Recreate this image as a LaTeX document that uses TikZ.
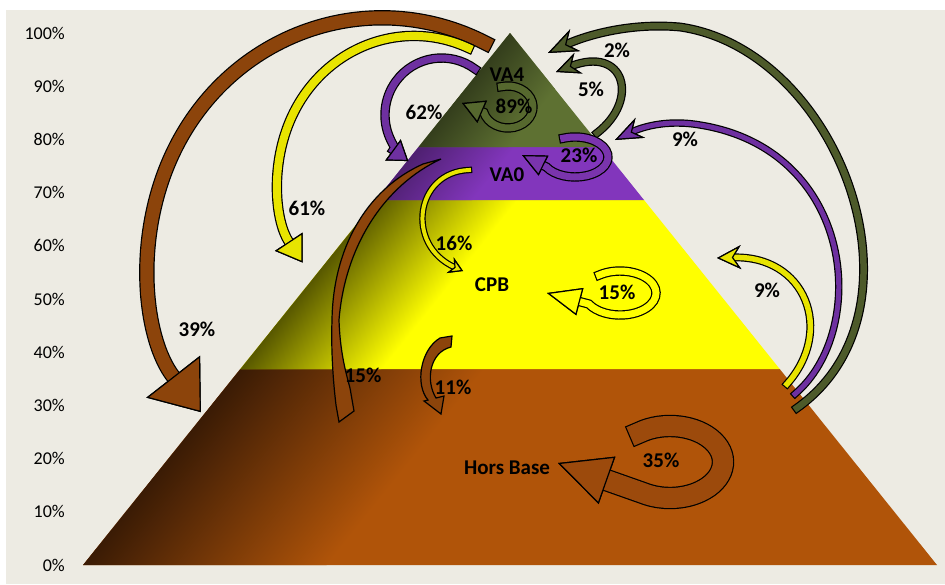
\documentclass[tikz,border=0pt]{standalone}
\usepackage{fontspec}
\setmainfont{Carlito}
\usetikzlibrary{arrows.meta}
\definecolor{bgbeige}{RGB}{237,235,227}
\definecolor{greenL}{RGB}{94,113,50}
\definecolor{greenD}{RGB}{52,62,28}
\definecolor{purpleL}{RGB}{130,54,188}
\definecolor{purpleD}{RGB}{78,32,112}
\definecolor{yellowL}{RGB}{255,255,0}
\definecolor{yellowD}{RGB}{88,88,0}
\definecolor{brownL}{RGB}{176,84,9}
\definecolor{brownD}{RGB}{58,27,5}
\definecolor{arrbrown}{RGB}{140,68,11}
\definecolor{arryellow}{RGB}{232,228,0}
\definecolor{arrpurple}{RGB}{110,48,160}
\definecolor{arrgreen}{RGB}{77,90,42}
\definecolor{loopgreen}{RGB}{86,104,46}
\definecolor{looppurple}{RGB}{122,52,173}
\definecolor{loopbrown}{RGB}{156,74,12}

% band arrow: fill, band width, tip, tip length, tip width, path
\newcommand{\flowarrow}[6]{%
  \draw[line width=#2+2.4pt, black, line cap=rect, -{#3[length=#4, width=#5, line width=1.2pt]}] #6;
  \draw[line width=#2, #1, line cap=rect, -{#3[length=#4, width=#5, fill=#1, color=black, line width=1.2pt]}] #6;
}
% pyramid layer: outline, dark, light, depth of the shadow along the left edge
\newcommand{\pyrlayer}[4]{%
  \fill[#3] #1;
  \begin{scope}
    \clip #1;
    \begin{scope}[transform canvas={shift={(83,565)}, rotate=51.25}]
      \shade[top color=#2, bottom color=#3] (-20,0) rectangle (760,#4);
    \end{scope}
  \end{scope}
}

\begin{document}
\begin{tikzpicture}[x=1pt, y=-1pt,
  lbl/.style={font=\fontsize{21}{24}\selectfont\bfseries, inner sep=0pt},
  axl/.style={font=\fontsize{18}{21}\selectfont, anchor=east, inner sep=0pt}]
  \useasboundingbox (0,0) rectangle (945,584);
  \fill[white] (0,0) rectangle (945,584);
  \fill[bgbeige] (6,10) rectangle (945,584);

  % axis
  \foreach \p in {0,10,...,100} { \node[axl] (ax\p) at (65,{565-5.32*\p}) {\p\%}; }

  % pyramid layers
  \pyrlayer{(240.3,369) -- (779.7,369) -- (937,565) -- (83,565) -- cycle}{brownD}{brownL}{190}
  \pyrlayer{(376,200) -- (644,200) -- (779.7,369) -- (240.3,369) -- cycle}{yellowD}{yellowL}{110}
  \pyrlayer{(418.5,147) -- (601.5,147) -- (644,200) -- (376,200) -- cycle}{purpleD}{purpleL}{75}
  \pyrlayer{(510,33) -- (601.5,147) -- (418.5,147) -- cycle}{greenD}{greenL}{70}

  % flows to the left
  \flowarrow{arrbrown}{13pt}{Triangle}{45pt}{68pt}{(485.2,42.9) arc[start angle=-63.7, end angle=-219, x radius=233, y radius=242]}
  \flowarrow{arryellow}{8pt}{Triangle}{25pt}{33pt}{(468.4,48) arc[start angle=-66.4, end angle=-215, x radius=136, y radius=144]}
  \flowarrow{arrpurple}{7pt}{Triangle}{19pt}{26pt}{(475,69) arc[start angle=-53.8, end angle=-234, x radius=56.6, y radius=57]}

  % flows to the right
  \flowarrow{arrgreen}{6.5pt}{Stealth}{30pt}{24pt}{(797,408) .. controls (935,310) and (840,50) .. (680,27) .. controls (625,22) and (580,38) .. (548,53)}
  \flowarrow{arrpurple}{5pt}{Stealth}{28pt}{22pt}{(795,394) .. controls (870,330) and (855,150) .. (700,125) .. controls (665,119) and (640,128) .. (615,140)}
  \flowarrow{arryellow}{5.5pt}{Stealth}{24pt}{24pt}{(787,384) .. controls (835,330) and (805,255) .. (717,258)}
  \flowarrow{arrgreen}{6pt}{Stealth}{24pt}{22pt}{(597,133) .. controls (640,100) and (625,45) .. (556,72)}

  % flows down the pyramid
  \flowarrow{arryellow}{4pt}{Stealth}{14pt}{17pt}{(469,170) .. controls (415,172) and (405,245) .. (463,271)}
  \draw[fill=arrbrown, line width=1.2pt] (423,164) -- (441,159) .. controls (385,185) and (345,245) .. (339,320)
    .. controls (340,350) and (345,370) .. (350,388) -- (354,411) -- (339,422) -- (336,405)
    .. controls (333,380) and (331,350) .. (332,320) .. controls (333,250) and (365,190) .. cycle;
  \draw[fill=arrbrown, line width=1.2pt] (440,338) .. controls (420,350) and (415,385) .. (428,400)
    -- (424,401) -- (441,414) -- (444,396) -- (436,398) .. controls (425,380) and (430,352) .. (451,347)
    -- (452,336) -- cycle;

  % loops
  \flowarrow{loopgreen}{7pt}{Triangle}{22pt}{24pt}{(501.5,86.7) arc[start angle=-105, end angle=165, x radius=25, y radius=21] -- (462,103)}
  \flowarrow{looppurple}{7pt}{Triangle}{24pt}{22pt}{(563.7,138.2) arc[start angle=-110, end angle=150, x radius=33, y radius=20] -- (522,155)}
  \flowarrow{yellowL}{7pt}{Triangle}{34pt}{28pt}{(599.4,275) arc[start angle=-125, end angle=150, x radius=36, y radius=22] -- (547,293)}
  \flowarrow{loopbrown}{20pt}{Triangle}{52pt}{50pt}{(639.6,432.5) arc[start angle=-125, end angle=120, x radius=53, y radius=36] -- (558,463)}

  % labels
  \node[lbl] (va4) at (507,75) {VA4};
  \node[lbl] (p89) at (514,106) {89\%};
  \node[lbl] (p62) at (424,112) {62\%};
  \node[lbl] (p5) at (591,89) {5\%};
  \node[lbl] (p2) at (617,50) {2\%};
  \node[lbl] (p23) at (579,155) {23\%};
  \node[lbl] (p9a) at (685,139) {9\%};
  \node[lbl] (va0) at (507,175) {VA0};
  \node[lbl] (p61) at (307,208) {61\%};
  \node[lbl] (p16) at (454,243) {16\%};
  \node[lbl] (cpb) at (492,285) {CPB};
  \node[lbl] (p15a) at (617,292) {15\%};
  \node[lbl] (p9b) at (767,290) {9\%};
  \node[lbl] (p39) at (197,329) {39\%};
  \node[lbl] (p15b) at (363,375) {15\%};
  \node[lbl] (p11) at (453,387) {11\%};
  \node[lbl] (hb) at (507,468) {Hors Base};
  \node[lbl] (p35) at (661,460) {35\%};
\end{tikzpicture}
\end{document}
